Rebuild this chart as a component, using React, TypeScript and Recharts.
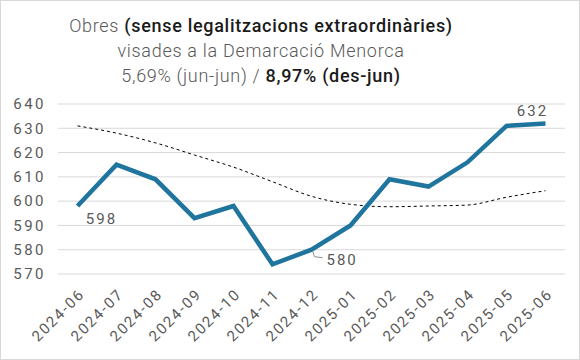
import { LineChart, Line, XAxis, YAxis, CartesianGrid, LabelList } from 'recharts';

const months = [
  '2024-06', '2024-07', '2024-08', '2024-09', '2024-10', '2024-11', '2024-12',
  '2025-01', '2025-02', '2025-03', '2025-04', '2025-05', '2025-06',
];
const obres = [598, 615, 609, 593, 598, 574, 580, 590, 609, 606, 616, 631, 632];
const tendencia = [631, 628, 624, 619, 614, 608, 602, 598.7, 597.7, 598, 598.4, 601.6, 604.3];
const yTicks = [570, 580, 590, 600, 610, 620, 630, 640];
// which points get a value label, and where
const labelled: Record<number, 'below' | 'leader' | 'above'> = { 0: 'below', 6: 'leader', 12: 'above' };

const data = months.map((m, i) => ({ month: m, obres: obres[i], tendencia: tendencia[i] }));

const FONT = 'Roboto, "Open Sans", sans-serif';
const GREY = '#595959';

const XTick = ({ x, y, payload }: any) => {
  const tx = x + 8;
  const ty = y + 13;
  return (
    <text
      x={tx}
      y={ty}
      textAnchor="end"
      fill={GREY}
      fontSize={15}
      letterSpacing={1.8}
      fontFamily={FONT}
      transform={`rotate(-45, ${tx}, ${ty})`}
    >
      {payload.value}
    </text>
  );
};

const PointLabel = ({ x, y, value, index }: any) => {
  const where = labelled[index];
  if (!where) return null;
  const common = { fill: GREY, fontSize: 15, letterSpacing: 2, fontFamily: FONT };
  if (where === 'below') {
    return <text x={x + 24} y={y + 18} textAnchor="middle" {...common}>{value}</text>;
  }
  if (where === 'above') {
    return <text x={x - 13} y={y - 7} textAnchor="middle" {...common}>{value}</text>;
  }
  return (
    <g>
      <polyline points={`${x + 1},${y + 1} ${x + 3},${y + 7} ${x + 11},${y + 8}`} fill="none" stroke="#8c8c8c" strokeWidth={1} />
      <text x={x + 15} y={y + 15} textAnchor="start" {...common}>{value}</text>
    </g>
  );
};

const App = () => {
  return (
    <div style={{ position: 'relative', width: 580, height: 360, boxSizing: 'border-box', border: '1px solid #d9d9d9', background: '#fff' }}>
      <style>{'body{margin:0}'}</style>
      <div style={{ position: 'absolute', top: 12, left: 0, width: 520, textAlign: 'center', fontFamily: FONT, fontSize: 18, lineHeight: '25px', letterSpacing: 0.7, color: GREY, fontWeight: 300 }}>
        <div>Obres <span style={{ fontWeight: 500, color: '#1a1a1a' }}>(sense legalitzacions extraordinàries)</span></div>
        <div>visades a la Demarcació Menorca</div>
        <div>5,69% (jun-jun) / <span style={{ fontWeight: 500, color: '#1a1a1a' }}>8,97% (des-jun)</span></div>
      </div>
      <div style={{ position: 'absolute', top: 0, left: 0 }}>
        <LineChart width={578} height={358} data={data} margin={{ top: 103, right: 14, bottom: 5, left: 0 }}>
          <CartesianGrid vertical={false} stroke="#d9d9d9" />
          <XAxis
            dataKey="month"
            axisLine={false}
            tickLine={false}
            interval={0}
            height={80}
            padding={{ left: 19.5, right: 19.5 }}
            tick={<XTick />}
          />
          <YAxis
            domain={[570, 640]}
            ticks={yTicks}
            width={57}
            axisLine={false}
            tickLine={false}
            tickMargin={6}
            tick={{ fill: GREY, fontSize: 15, letterSpacing: 2.5, fontFamily: FONT }}
          />
          <Line
            dataKey="tendencia"
            stroke="#000"
            strokeWidth={1}
            strokeDasharray="3 3"
            dot={false}
            type="monotone"
            isAnimationActive={false}
          />
          <Line
            dataKey="obres"
            stroke="#1f759e"
            strokeWidth={4.5}
            dot={false}
            type="linear"
            strokeLinejoin="miter"
            isAnimationActive={false}
          >
            <LabelList dataKey="obres" content={<PointLabel />} />
          </Line>
        </LineChart>
      </div>
    </div>
  );
};

export default App;
